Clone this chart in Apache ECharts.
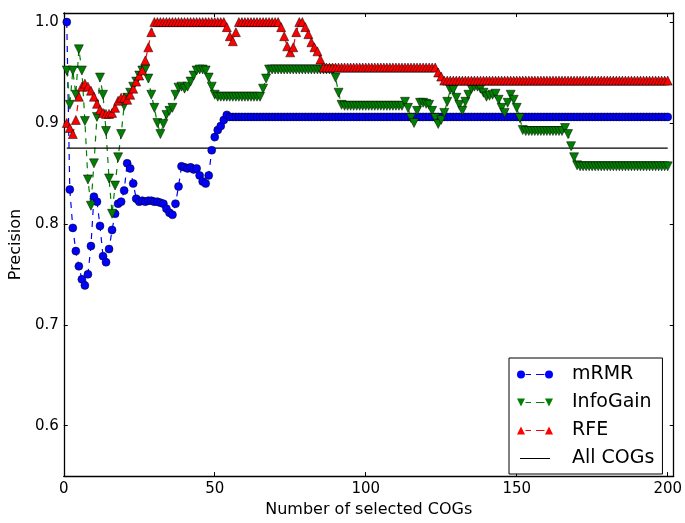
<!DOCTYPE html>
<html>
<head>
<meta charset="utf-8">
<script src="https://cdn.jsdelivr.net/npm/echarts@6/dist/echarts.min.js"></script>
<style>
  html, body { margin: 0; padding: 0; background: #fff; }
  #chart { width: 685px; height: 523px; }
</style>
</head>
<body>
<div id="chart"></div>
<script>
// precision per number of selected COGs (x = 1..200)
const mrmr = [
  1.0, 0.834, 0.796, 0.773, 0.758, 0.745, 0.739, 0.75, 0.778, 0.827,
  0.822, 0.798, 0.768, 0.762, 0.775, 0.794, 0.81, 0.82, 0.822, 0.833,
  0.86, 0.855, 0.84, 0.825, 0.822, 0.823, 0.822, 0.823, 0.823, 0.822,
  0.822, 0.821, 0.82, 0.815, 0.811, 0.809, 0.82, 0.837, 0.857, 0.856,
  0.855, 0.856, 0.854, 0.855, 0.848, 0.842, 0.84, 0.848, 0.873, 0.886,
  0.893, 0.897, 0.903, 0.908, 0.906, 0.906, 0.906, 0.906, 0.906, 0.906,
  0.906, 0.906, 0.906, 0.906, 0.906, 0.906, 0.906, 0.906, 0.906, 0.906,
  0.906, 0.906, 0.906, 0.906, 0.906, 0.906, 0.906, 0.906, 0.906, 0.906,
  0.906, 0.906, 0.906, 0.906, 0.906, 0.906, 0.906, 0.906, 0.906, 0.906,
  0.906, 0.906, 0.906, 0.906, 0.906, 0.906, 0.906, 0.906, 0.906, 0.906,
  0.906, 0.906, 0.906, 0.906, 0.906, 0.906, 0.906, 0.906, 0.906, 0.906,
  0.906, 0.906, 0.906, 0.906, 0.906, 0.906, 0.906, 0.906, 0.906, 0.906,
  0.906, 0.906, 0.906, 0.906, 0.906, 0.906, 0.906, 0.906, 0.906, 0.906,
  0.906, 0.906, 0.906, 0.906, 0.906, 0.906, 0.906, 0.906, 0.906, 0.906,
  0.906, 0.906, 0.906, 0.906, 0.906, 0.906, 0.906, 0.906, 0.906, 0.906,
  0.906, 0.906, 0.906, 0.906, 0.906, 0.906, 0.906, 0.906, 0.906, 0.906,
  0.906, 0.906, 0.906, 0.906, 0.906, 0.906, 0.906, 0.906, 0.906, 0.906,
  0.906, 0.906, 0.906, 0.906, 0.906, 0.906, 0.906, 0.906, 0.906, 0.906,
  0.906, 0.906, 0.906, 0.906, 0.906, 0.906, 0.906, 0.906, 0.906, 0.906,
  0.906, 0.906, 0.906, 0.906, 0.906, 0.906, 0.906, 0.906, 0.906, 0.906
];

const infoGain = [
  0.952, 0.918, 0.952, 0.928, 0.973, 0.952, 0.902, 0.844, 0.818, 0.86,
  0.906, 0.945, 0.928, 0.892, 0.845, 0.81, 0.838, 0.866, 0.889, 0.917,
  0.925, 0.93, 0.936, 0.941, 0.947, 0.952, 0.953, 0.944, 0.928, 0.915,
  0.9, 0.889, 0.899, 0.908, 0.912, 0.915, 0.928, 0.935, 0.936, 0.934,
  0.936, 0.941, 0.947, 0.952, 0.953, 0.953, 0.952, 0.945, 0.936, 0.928,
  0.926, 0.926, 0.926, 0.926, 0.926, 0.926, 0.926, 0.926, 0.926, 0.926,
  0.926, 0.926, 0.926, 0.926, 0.926, 0.934, 0.944, 0.953, 0.953, 0.953,
  0.953, 0.953, 0.953, 0.953, 0.953, 0.953, 0.953, 0.953, 0.953, 0.953,
  0.953, 0.953, 0.953, 0.953, 0.953, 0.953, 0.953, 0.953, 0.953, 0.945,
  0.93, 0.918, 0.917, 0.917, 0.917, 0.917, 0.917, 0.917, 0.917, 0.917,
  0.917, 0.917, 0.917, 0.917, 0.917, 0.917, 0.917, 0.917, 0.917, 0.917,
  0.917, 0.917, 0.921, 0.915, 0.905, 0.9, 0.912, 0.92, 0.92, 0.919,
  0.918, 0.912, 0.905, 0.899, 0.903, 0.91, 0.921, 0.933, 0.933, 0.925,
  0.918, 0.912, 0.921, 0.928, 0.934, 0.936, 0.936, 0.934, 0.93, 0.926,
  0.927, 0.928, 0.929, 0.923, 0.915, 0.91, 0.92, 0.928, 0.923, 0.915,
  0.905, 0.893, 0.892, 0.892, 0.892, 0.892, 0.892, 0.892, 0.892, 0.892,
  0.892, 0.892, 0.892, 0.892, 0.892, 0.895, 0.889, 0.877, 0.866, 0.858,
  0.857, 0.857, 0.857, 0.857, 0.857, 0.857, 0.857, 0.857, 0.857, 0.857,
  0.857, 0.857, 0.857, 0.857, 0.857, 0.857, 0.857, 0.857, 0.857, 0.857,
  0.857, 0.857, 0.857, 0.857, 0.857, 0.857, 0.857, 0.857, 0.857, 0.857
];

const rfe = [
  0.9, 0.895, 0.889, 0.903, 0.926, 0.936, 0.939, 0.936, 0.932, 0.926,
  0.919, 0.913, 0.91, 0.909, 0.909, 0.91, 0.915, 0.922, 0.925, 0.925,
  0.923, 0.928, 0.934, 0.941, 0.947, 0.952, 0.962, 0.975, 0.99, 1.0,
  1.0, 1.0, 1.0, 1.0, 1.0, 1.0, 1.0, 1.0, 1.0, 1.0,
  1.0, 1.0, 1.0, 1.0, 1.0, 1.0, 1.0, 1.0, 1.0, 1.0,
  1.0, 1.0, 1.0, 0.995, 0.986, 0.981, 0.99, 1.0, 1.0, 1.0,
  1.0, 1.0, 1.0, 1.0, 1.0, 1.0, 1.0, 1.0, 1.0, 1.0,
  1.0, 0.995, 0.986, 0.976, 0.97, 0.975, 0.99, 1.0, 1.0, 0.995,
  0.988, 0.98, 0.975, 0.971, 0.963, 0.955, 0.955, 0.955, 0.955, 0.955,
  0.955, 0.955, 0.955, 0.955, 0.955, 0.955, 0.955, 0.955, 0.955, 0.955,
  0.955, 0.955, 0.955, 0.955, 0.955, 0.955, 0.955, 0.955, 0.955, 0.955,
  0.955, 0.955, 0.955, 0.955, 0.955, 0.955, 0.955, 0.955, 0.955, 0.955,
  0.955, 0.955, 0.955, 0.95, 0.946, 0.942, 0.942, 0.942, 0.942, 0.942,
  0.942, 0.942, 0.942, 0.942, 0.942, 0.942, 0.942, 0.942, 0.942, 0.942,
  0.942, 0.942, 0.942, 0.942, 0.942, 0.942, 0.942, 0.942, 0.942, 0.942,
  0.942, 0.942, 0.942, 0.942, 0.942, 0.942, 0.942, 0.942, 0.942, 0.942,
  0.942, 0.942, 0.942, 0.942, 0.942, 0.942, 0.942, 0.942, 0.942, 0.942,
  0.942, 0.942, 0.942, 0.942, 0.942, 0.942, 0.942, 0.942, 0.942, 0.942,
  0.942, 0.942, 0.942, 0.942, 0.942, 0.942, 0.942, 0.942, 0.942, 0.942,
  0.942, 0.942, 0.942, 0.942, 0.942, 0.942, 0.942, 0.942, 0.942, 0.942
];

const allCogsPrecision = 0.875;
const allCogsRange = [1, 200];

const xTicks = [0, 50, 100, 150, 200];
const yTicks = [0.6, 0.7, 0.8, 0.9, 1.0];

const font = "DejaVu Sans";
const downTriangle = "path://M0,0 L10,0 L5,10 Z";

// legend icons: two markers joined by a dashed line, like the matplotlib legend
const dashBits = "M8.5,3.4h5.5v1.2h-5.5Z M19,3.4h8.5v1.2h-8.5Z";
const legendIcons = {
  "mRMR": "path://M0,4a4,4 0 1,0 8,0a4,4 0 1,0 -8,0Z M28,4a4,4 0 1,0 8,0a4,4 0 1,0 -8,0Z " + dashBits,
  "InfoGain": "path://M0,0h8l-4,8Z M28,0h8l-4,8Z " + dashBits,
  "RFE": "path://M0,8h8l-4,-8Z M28,8h8l-4,-8Z " + dashBits,
  "All COGs": "path://M0,4L0,4.01Z M36,4L36,4.01Z M3,3.4h30v1.2h-30Z",
};

const chart = echarts.init(document.getElementById("chart"));

const toPoints = arr => arr.map((v, i) => [i + 1, v]);

const baseX = {
  type: "value", min: 0, max: 202,
  splitLine: { show: false },
  axisLine: { show: true, onZero: false, lineStyle: { color: "#000", width: 1.3 } },
  axisTick: { show: true, inside: true, length: 4, customValues: xTicks, lineStyle: { color: "#000" } },
};
const baseY = {
  type: "value", min: 0.55, max: 1.009,
  splitLine: { show: false },
  axisLine: { show: true, onZero: false, lineStyle: { color: "#000", width: 1.3 } },
  axisTick: { show: true, inside: true, length: 4, customValues: yTicks, lineStyle: { color: "#000" } },
};

const lineSeries = (name, data, color, symbol) => ({
  name,
  type: "line",
  data: toPoints(data),
  symbol,
  symbolSize: symbol === "circle" ? 8 : 9,
  showAllSymbol: true,
  animation: false,
  lineStyle: { color, width: 1.2, type: [6, 6] },
  itemStyle: { color, borderColor: "#000", borderWidth: 0.5 },
});

chart.setOption({
  animation: false,
  grid: { left: 63, right: 10, top: 13, bottom: 39 },
  xAxis: [
    {
      ...baseX,
      position: "bottom",
      name: "Number of selected COGs",
      nameLocation: "middle",
      nameGap: 24,
      nameTextStyle: { fontFamily: font, fontSize: 16, color: "#000" },
      axisLabel: { customValues: xTicks, margin: 6, fontFamily: font, fontSize: 15, color: "#000" },
    },
    { ...baseX, position: "top", axisLabel: { show: false } },
  ],
  yAxis: [
    {
      ...baseY,
      position: "left",
      name: "Precision",
      nameLocation: "middle",
      nameGap: 35,
      nameTextStyle: { fontFamily: font, fontSize: 16, color: "#000" },
      axisLabel: {
        customValues: yTicks, margin: 5, fontFamily: font, fontSize: 15, color: "#000",
        formatter: v => v.toFixed(1),
      },
    },
    { ...baseY, position: "right", axisLabel: { show: false } },
  ],
  legend: {
    orient: "vertical",
    left: 509, top: 358,
    padding: [7, 8, 6, 8],
    itemGap: 9,
    itemWidth: 36, itemHeight: 8,
    backgroundColor: "#fff",
    borderColor: "#000", borderWidth: 1, borderRadius: 0,
    itemStyle: { borderWidth: 0 },
    textStyle: { fontFamily: font, fontSize: 19, lineHeight: 19, color: "#000", padding: [0, 0, 0, 14] },
    data: ["mRMR", "InfoGain", "RFE", "All COGs"].map(name => ({ name, icon: legendIcons[name] })),
  },
  series: [
    lineSeries("mRMR", mrmr, "#0000ff", "circle"),
    lineSeries("InfoGain", infoGain, "#008000", downTriangle),
    lineSeries("RFE", rfe, "#ff0000", "triangle"),
    {
      name: "All COGs",
      type: "line",
      data: allCogsRange.map(x => [x, allCogsPrecision]),
      symbol: "none",
      lineStyle: { color: "#000", width: 1.2 },
      itemStyle: { color: "#000" },
    },
  ],
});
</script>
</body>
</html>
